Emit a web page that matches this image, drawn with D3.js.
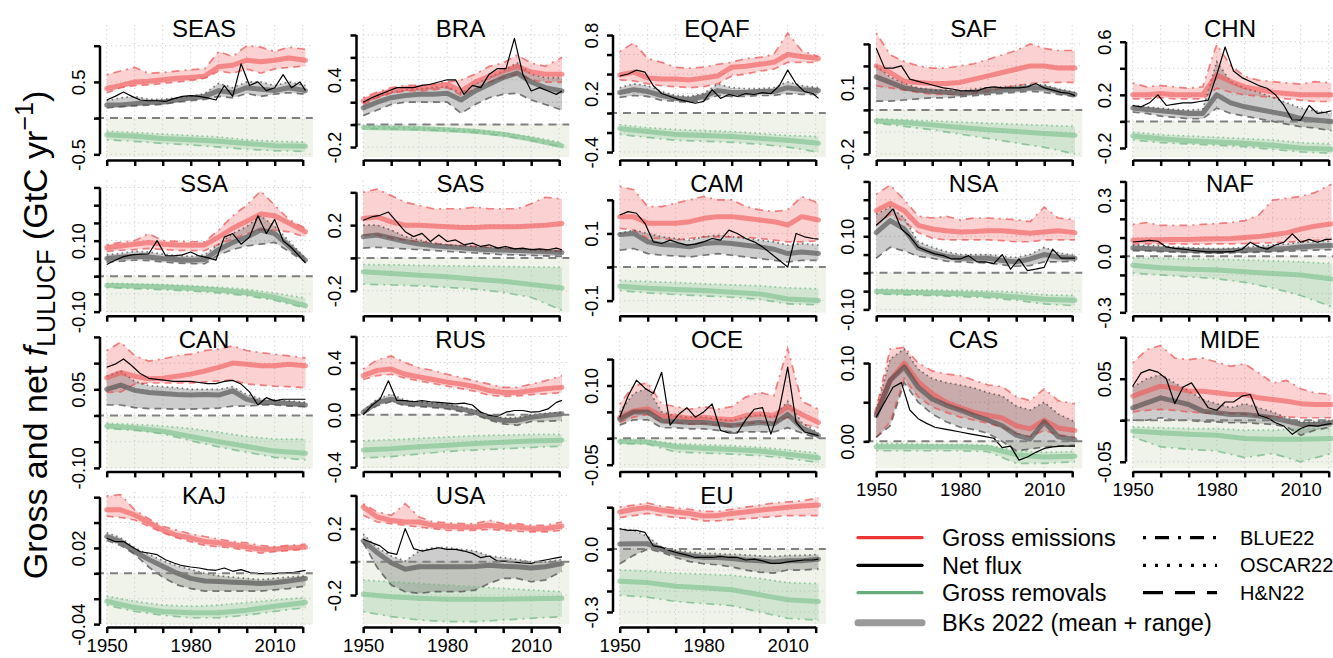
<!DOCTYPE html>
<html lang="en">
<head>
<meta charset="utf-8">
<title>Gross and net LULUCF fluxes by region</title>
<script src="https://d3js.org/d3.v7.min.js"></script>
<style>
  body { margin: 0; background: #fff; }
  svg { font-family: "Liberation Sans", Arial, Helvetica, sans-serif; }
</style>
</head>
<body>
<script>
// ---- data (GtC / yr) ----
var regions = ["SEAS","BRA","EQAF","SAF","CHN","SSA","SAS","CAM","NSA","NAF","CAN","RUS","OCE","CAS","MIDE","KAJ","USA","EU"];

var yearsA = [1950,1955,1960,1965,1970,1975,1980,1985,1990,1995,2000,2005,2010,2015,2021];
var yearsB = [1950,1953,1956,1959,1962,1965,1968,1971,1974,1977,1980,1983,1986,1989,1992,1995,1998,2001,2004,2007,2010,2013,2016,2019,2021];
var yearsR = [1950,1960,1970,1980,1990,2000,2010,2021];
var decades = [1950,1960,1970,1980,1990,2000,2010,2020];
var xTickLabels = ["1950","1980","2010"];

// axis limits, tick spacing [first, last, step] and which ticks carry a label
var yLimits = {
  SEAS:[-0.537,1.286], BRA:[-0.289,0.889], EQAF:[-0.451,0.903], SAF:[-0.214,0.386], CHN:[-0.268,0.726],
  SSA:[-0.103,0.269], SAS:[-0.334,0.471], CAM:[-0.136,0.257], NSA:[-0.109,0.252], NAF:[-0.302,0.404],
  CAN:[-0.101,0.151], RUS:[-0.41,0.6], OCE:[-0.057,0.193], CAS:[-0.0345,0.134], MIDE:[-0.058,0.101],
  KAJ:[-0.04,0.064], USA:[-0.375,0.42], EU:[-0.358,0.272]
};
var yTicks = {
  SEAS:[-0.5,1.0,0.5], BRA:[-0.2,0.8,0.2], EQAF:[-0.4,0.8,0.2], SAF:[-0.2,0.3,0.1], CHN:[-0.2,0.6,0.2],
  SSA:[-0.1,0.25,0.05], SAS:[-0.2,0.4,0.2], CAM:[-0.1,0.2,0.1], NSA:[-0.1,0.25,0.05], NAF:[-0.3,0.4,0.1],
  CAN:[-0.1,0.15,0.05], RUS:[-0.4,0.6,0.2], OCE:[-0.05,0.15,0.05], CAS:[0,0.1,0.05], MIDE:[-0.05,0.1,0.05],
  KAJ:[-0.04,0.06,0.02], USA:[-0.2,0.4,0.2], EU:[-0.3,0.2,0.1]
};
var yTickLabels = {
  SEAS:["-0.5","0.5"], BRA:["-0.2","0.4"], EQAF:["-0.4","0.2","0.8"], SAF:["-0.2","0.1"], CHN:["-0.2","0.2","0.6"],
  SSA:["-0.10","0.10"], SAS:["-0.2","0.2"], CAM:["-0.1","0.1"], NSA:["-0.10","0.10"], NAF:["-0.3","0.0","0.3"],
  CAN:["-0.10","0.05"], RUS:["-0.4","0.0","0.4"], OCE:["-0.05","0.10"], CAS:["0.00","0.10"], MIDE:["-0.05","0.05"],
  KAJ:["-0.04","0.02"], USA:["-0.2","0.2"], EU:["-0.3","0.0"]
};

// gross emissions, BKs mean and range (yearsA)
var grossEmis = {
  SEAS:[0.41,0.45,0.5,0.51,0.53,0.55,0.56,0.58,0.71,0.73,0.8,0.78,0.8,0.83,0.8],
  BRA:[0.21,0.26,0.3,0.32,0.33,0.34,0.36,0.3,0.38,0.43,0.48,0.52,0.47,0.45,0.45],
  EQAF:[0.39,0.42,0.36,0.35,0.35,0.34,0.36,0.38,0.47,0.48,0.5,0.52,0.6,0.58,0.56],
  SAF:[0.2,0.17,0.13,0.125,0.12,0.12,0.125,0.14,0.155,0.17,0.185,0.2,0.2,0.19,0.19],
  CHN:[0.2,0.2,0.21,0.2,0.2,0.2,0.35,0.3,0.26,0.24,0.22,0.21,0.2,0.2,0.2],
  SSA:[0.08,0.085,0.09,0.095,0.09,0.088,0.087,0.088,0.11,0.135,0.155,0.175,0.17,0.15,0.125],
  SAS:[0.24,0.25,0.22,0.2,0.2,0.195,0.19,0.185,0.185,0.19,0.19,0.19,0.195,0.2,0.21],
  CAM:[0.15,0.15,0.13,0.13,0.13,0.135,0.145,0.15,0.15,0.145,0.14,0.135,0.125,0.15,0.14],
  NSA:[0.17,0.19,0.17,0.13,0.12,0.115,0.112,0.113,0.115,0.115,0.112,0.108,0.112,0.115,0.11],
  NAF:[0.085,0.087,0.088,0.09,0.09,0.092,0.094,0.095,0.1,0.105,0.115,0.125,0.145,0.16,0.173],
  CAN:[0.072,0.082,0.075,0.07,0.071,0.075,0.079,0.085,0.092,0.1,0.098,0.095,0.095,0.098,0.095],
  RUS:[0.3,0.34,0.35,0.31,0.29,0.27,0.25,0.235,0.215,0.185,0.17,0.17,0.185,0.2,0.21],
  OCE:[0.04,0.052,0.056,0.042,0.042,0.038,0.04,0.037,0.035,0.043,0.046,0.043,0.06,0.045,0.03],
  CAS:[0.037,0.078,0.1,0.076,0.061,0.05,0.043,0.037,0.033,0.03,0.02,0.016,0.027,0.017,0.014],
  MIDE:[0.029,0.035,0.041,0.039,0.035,0.035,0.033,0.031,0.031,0.027,0.025,0.023,0.02,0.019,0.019],
  KAJ:[0.05,0.05,0.046,0.04,0.034,0.03,0.028,0.025,0.024,0.0225,0.021,0.019,0.019,0.02,0.0205],
  USA:[0.33,0.27,0.25,0.24,0.24,0.22,0.215,0.21,0.21,0.22,0.21,0.21,0.2,0.2,0.215],
  EU:[0.177,0.19,0.198,0.185,0.177,0.17,0.158,0.16,0.17,0.177,0.185,0.193,0.2,0.206,0.21]
};
var grossEmisHigh = {
  SEAS:[0.6,0.65,0.7,0.62,0.63,0.65,0.67,0.68,0.92,0.85,1.0,0.98,0.92,0.98,0.95],
  BRA:[0.24,0.29,0.33,0.35,0.35,0.36,0.38,0.4,0.45,0.52,0.55,0.62,0.55,0.52,0.6],
  EQAF:[0.63,0.72,0.56,0.52,0.47,0.46,0.47,0.5,0.52,0.56,0.57,0.6,0.82,0.64,0.58],
  SAF:[0.35,0.25,0.22,0.2,0.19,0.19,0.2,0.21,0.23,0.25,0.27,0.3,0.28,0.27,0.27],
  CHN:[0.29,0.26,0.27,0.26,0.25,0.26,0.58,0.42,0.34,0.31,0.3,0.29,0.28,0.3,0.29],
  SSA:[0.088,0.095,0.1,0.12,0.1,0.098,0.097,0.097,0.13,0.17,0.2,0.24,0.2,0.16,0.135],
  SAS:[0.4,0.42,0.38,0.34,0.32,0.3,0.3,0.3,0.31,0.3,0.3,0.3,0.33,0.37,0.36],
  CAM:[0.24,0.23,0.18,0.18,0.19,0.2,0.21,0.2,0.2,0.18,0.17,0.165,0.17,0.21,0.19],
  NSA:[0.215,0.24,0.2,0.155,0.15,0.155,0.145,0.15,0.15,0.148,0.145,0.14,0.18,0.15,0.145],
  NAF:[0.17,0.18,0.165,0.165,0.165,0.17,0.175,0.18,0.19,0.22,0.3,0.31,0.32,0.34,0.385],
  CAN:[0.124,0.14,0.114,0.104,0.108,0.114,0.117,0.124,0.127,0.133,0.124,0.12,0.117,0.114,0.11],
  RUS:[0.35,0.42,0.45,0.4,0.36,0.34,0.31,0.285,0.26,0.235,0.21,0.21,0.235,0.26,0.3],
  OCE:[0.065,0.1,0.105,0.065,0.06,0.055,0.06,0.055,0.06,0.078,0.087,0.08,0.17,0.07,0.055],
  CAS:[0.042,0.118,0.12,0.1,0.09,0.086,0.084,0.078,0.072,0.07,0.057,0.052,0.067,0.052,0.048],
  MIDE:[0.069,0.085,0.09,0.075,0.073,0.075,0.07,0.065,0.068,0.057,0.045,0.048,0.038,0.033,0.031],
  KAJ:[0.061,0.062,0.05,0.043,0.037,0.034,0.031,0.029,0.027,0.025,0.024,0.022,0.021,0.022,0.023],
  USA:[0.35,0.3,0.28,0.35,0.27,0.24,0.235,0.23,0.23,0.25,0.23,0.23,0.22,0.22,0.24],
  EU:[0.2,0.21,0.22,0.205,0.195,0.19,0.18,0.18,0.19,0.2,0.21,0.22,0.225,0.23,0.245]
};
var grossEmisLow = {
  SEAS:[0.35,0.42,0.45,0.46,0.48,0.5,0.52,0.55,0.65,0.62,0.68,0.62,0.68,0.7,0.72],
  BRA:[0.18,0.24,0.28,0.3,0.3,0.31,0.33,0.26,0.32,0.38,0.42,0.45,0.4,0.38,0.38],
  EQAF:[0.34,0.33,0.3,0.28,0.27,0.26,0.27,0.3,0.38,0.4,0.43,0.45,0.52,0.52,0.52],
  SAF:[0.11,0.1,0.09,0.08,0.07,0.07,0.07,0.075,0.085,0.1,0.11,0.12,0.125,0.125,0.125],
  CHN:[0.17,0.17,0.18,0.17,0.17,0.17,0.25,0.22,0.2,0.19,0.18,0.17,0.16,0.15,0.15],
  SSA:[0.07,0.073,0.075,0.078,0.075,0.073,0.072,0.072,0.09,0.105,0.12,0.13,0.13,0.125,0.11],
  SAS:[0.14,0.14,0.12,0.11,0.1,0.09,0.08,0.075,0.07,0.065,0.06,0.055,0.05,0.045,0.04],
  CAM:[0.115,0.11,0.085,0.085,0.08,0.085,0.09,0.09,0.09,0.088,0.085,0.08,0.075,0.075,0.078],
  NSA:[0.13,0.16,0.14,0.11,0.095,0.09,0.09,0.09,0.09,0.088,0.085,0.085,0.09,0.09,0.09],
  NAF:[0.065,0.066,0.066,0.066,0.065,0.065,0.066,0.066,0.068,0.07,0.072,0.075,0.08,0.085,0.09],
  CAN:[0.044,0.045,0.06,0.062,0.062,0.062,0.062,0.064,0.066,0.068,0.06,0.058,0.056,0.055,0.053],
  RUS:[0.27,0.3,0.31,0.28,0.26,0.24,0.22,0.2,0.18,0.15,0.14,0.145,0.155,0.16,0.17],
  OCE:[0.03,0.04,0.045,0.03,0.03,0.027,0.028,0.025,0.023,0.027,0.03,0.028,0.04,0.027,0.02],
  CAS:[0.005,0.025,0.08,0.057,0.044,0.037,0.031,0.027,0.023,0.018,0.01,0.006,0.014,0.008,0.005],
  MIDE:[0.01,0.012,0.013,0.012,0.01,0.009,0.008,0.008,0.007,0.005,0.004,0.004,0.003,0.003,0.003],
  KAJ:[0.045,0.044,0.042,0.037,0.032,0.028,0.025,0.022,0.021,0.02,0.018,0.016,0.017,0.018,0.019],
  USA:[0.28,0.24,0.23,0.22,0.21,0.2,0.19,0.19,0.19,0.195,0.19,0.185,0.18,0.18,0.19],
  EU:[0.15,0.16,0.17,0.16,0.15,0.145,0.135,0.135,0.14,0.145,0.15,0.155,0.16,0.16,0.16]
};

// net flux, BKs mean and range (yearsA)
var netFlux = {
  SEAS:[0.18,0.18,0.2,0.22,0.22,0.25,0.28,0.3,0.38,0.35,0.42,0.4,0.38,0.42,0.38],
  BRA:[0.15,0.2,0.24,0.26,0.27,0.27,0.28,0.22,0.3,0.36,0.42,0.46,0.38,0.33,0.3],
  EQAF:[0.21,0.24,0.22,0.18,0.15,0.14,0.17,0.23,0.21,0.21,0.22,0.22,0.26,0.24,0.23],
  SAF:[0.15,0.125,0.1,0.09,0.085,0.08,0.075,0.08,0.085,0.09,0.095,0.1,0.1,0.085,0.07],
  CHN:[0.1,0.09,0.08,0.07,0.06,0.06,0.2,0.14,0.11,0.09,0.07,0.05,0.02,0.01,0.0],
  SSA:[0.05,0.053,0.056,0.054,0.05,0.047,0.045,0.047,0.075,0.095,0.11,0.13,0.12,0.085,0.045],
  SAS:[0.13,0.14,0.12,0.1,0.085,0.075,0.068,0.062,0.055,0.05,0.048,0.045,0.042,0.038,0.033],
  CAM:[0.097,0.1,0.075,0.067,0.065,0.06,0.07,0.073,0.07,0.065,0.06,0.053,0.04,0.045,0.04],
  NSA:[0.11,0.143,0.12,0.068,0.055,0.045,0.04,0.04,0.04,0.034,0.03,0.038,0.05,0.043,0.04],
  NAF:[0.044,0.042,0.038,0.035,0.032,0.03,0.027,0.03,0.032,0.035,0.037,0.042,0.05,0.055,0.058],
  CAN:[0.05,0.058,0.048,0.044,0.042,0.04,0.039,0.04,0.039,0.047,0.031,0.025,0.025,0.023,0.02],
  RUS:[0.02,0.095,0.12,0.09,0.083,0.075,0.065,0.045,0.02,-0.018,-0.043,-0.043,-0.018,-0.005,0.008],
  OCE:[0.036,0.05,0.05,0.033,0.032,0.03,0.03,0.027,0.024,0.027,0.03,0.027,0.045,0.02,0.005],
  CAS:[0.033,0.078,0.095,0.069,0.054,0.046,0.04,0.033,0.027,0.02,0.008,0.003,0.025,0.006,0.002],
  MIDE:[0.015,0.021,0.027,0.023,0.019,0.011,0.009,0.007,0.007,0.005,0.003,-0.001,-0.005,-0.005,-0.003],
  KAJ:[0.029,0.025,0.017,0.011,0.0055,0.0003,-0.004,-0.006,-0.0065,-0.007,-0.0075,-0.008,-0.0075,-0.006,-0.004],
  USA:[0.126,0.055,-0.006,-0.045,-0.03,-0.03,-0.03,-0.03,-0.028,-0.02,-0.026,-0.03,-0.037,-0.03,-0.01],
  EU:[0.024,0.025,0.025,0.0,-0.02,-0.032,-0.04,-0.04,-0.045,-0.052,-0.056,-0.061,-0.056,-0.056,-0.048]
};
var netFluxHigh = {
  SEAS:[0.24,0.28,0.3,0.26,0.26,0.28,0.3,0.34,0.48,0.42,0.5,0.5,0.45,0.5,0.45],
  BRA:[0.2,0.25,0.29,0.31,0.32,0.33,0.34,0.28,0.36,0.42,0.48,0.55,0.45,0.42,0.42],
  EQAF:[0.26,0.3,0.28,0.22,0.18,0.17,0.2,0.3,0.26,0.25,0.25,0.26,0.32,0.28,0.26],
  SAF:[0.2,0.15,0.12,0.1,0.09,0.09,0.085,0.095,0.1,0.105,0.11,0.115,0.115,0.095,0.08],
  CHN:[0.12,0.11,0.1,0.09,0.085,0.09,0.45,0.3,0.25,0.22,0.18,0.14,0.1,0.08,0.06],
  SSA:[0.06,0.064,0.07,0.068,0.062,0.058,0.056,0.06,0.09,0.12,0.14,0.17,0.14,0.1,0.05],
  SAS:[0.2,0.2,0.17,0.13,0.11,0.09,0.08,0.075,0.07,0.065,0.06,0.055,0.05,0.045,0.04],
  CAM:[0.1,0.11,0.1,0.09,0.085,0.08,0.09,0.095,0.09,0.085,0.08,0.075,0.065,0.07,0.065],
  NSA:[0.16,0.18,0.15,0.085,0.07,0.058,0.05,0.05,0.05,0.045,0.042,0.05,0.07,0.055,0.048],
  NAF:[0.06,0.058,0.055,0.05,0.046,0.043,0.04,0.043,0.048,0.055,0.06,0.065,0.075,0.078,0.08],
  CAN:[0.075,0.085,0.065,0.057,0.055,0.053,0.05,0.05,0.05,0.055,0.04,0.032,0.03,0.028,0.025],
  RUS:[0.03,0.12,0.16,0.11,0.1,0.09,0.08,0.06,0.035,0.0,-0.025,-0.02,0.0,0.01,0.02],
  OCE:[0.05,0.085,0.095,0.05,0.042,0.04,0.04,0.036,0.034,0.04,0.045,0.04,0.07,0.03,0.01],
  CAS:[0.04,0.105,0.118,0.092,0.08,0.075,0.072,0.068,0.062,0.058,0.045,0.04,0.05,0.035,0.025],
  MIDE:[0.04,0.05,0.055,0.045,0.035,0.025,0.02,0.015,0.02,0.015,0.01,0.003,-0.002,-0.002,0.0],
  KAJ:[0.032,0.028,0.02,0.015,0.01,0.006,0.003,0.0,-0.002,-0.003,-0.004,-0.005,-0.004,-0.003,-0.002],
  USA:[0.167,0.085,0.035,0.005,0.065,0.085,0.085,0.075,0.065,0.035,0.025,0.014,0.0,0.0,0.014],
  EU:[0.095,0.09,0.06,0.01,-0.005,-0.015,-0.02,-0.022,-0.025,-0.028,-0.032,-0.035,-0.03,-0.03,-0.025]
};
var netFluxLow = {
  SEAS:[0.14,0.16,0.17,0.18,0.19,0.22,0.24,0.26,0.3,0.28,0.34,0.3,0.33,0.35,0.33],
  BRA:[0.08,0.13,0.18,0.2,0.2,0.2,0.2,0.1,0.18,0.24,0.27,0.28,0.22,0.18,0.13],
  EQAF:[0.16,0.18,0.17,0.13,0.12,0.11,0.13,0.18,0.17,0.17,0.18,0.18,0.2,0.19,0.19],
  SAF:[0.04,0.04,0.045,0.05,0.055,0.055,0.06,0.065,0.07,0.075,0.08,0.085,0.08,0.07,0.06],
  CHN:[0.07,0.06,0.04,0.03,0.02,0.02,0.1,0.06,0.04,0.02,0.0,-0.02,-0.04,-0.05,-0.07],
  SSA:[0.04,0.042,0.045,0.044,0.04,0.037,0.035,0.035,0.06,0.075,0.085,0.09,0.095,0.07,0.04],
  SAS:[0.06,0.065,0.06,0.055,0.05,0.045,0.04,0.035,0.03,0.025,0.02,0.018,0.015,0.012,0.01],
  CAM:[0.05,0.055,0.04,0.035,0.033,0.03,0.035,0.04,0.035,0.03,0.025,0.02,0.015,0.02,0.02],
  NSA:[0.04,0.07,0.06,0.045,0.04,0.032,0.03,0.028,0.027,0.022,0.018,0.02,0.03,0.03,0.032],
  NAF:[0.03,0.028,0.025,0.022,0.02,0.018,0.016,0.018,0.02,0.022,0.024,0.026,0.03,0.033,0.035],
  CAN:[0.02,0.02,0.015,0.013,0.013,0.012,0.012,0.013,0.014,0.018,0.018,0.02,0.02,0.018,0.017],
  RUS:[0.01,0.07,0.1,0.07,0.063,0.055,0.045,0.025,0.0,-0.04,-0.07,-0.08,-0.05,-0.05,-0.045],
  OCE:[0.025,0.035,0.035,0.02,0.02,0.018,0.018,0.015,0.012,0.012,0.012,0.012,0.02,0.01,0.0],
  CAS:[0.005,0.02,0.075,0.05,0.035,0.025,0.018,0.015,0.01,0.0,-0.012,-0.01,-0.007,-0.006,-0.005],
  MIDE:[0.0,0.0,0.003,0.0,0.0,-0.002,-0.002,-0.003,-0.003,-0.004,-0.005,-0.008,-0.018,-0.012,-0.008],
  KAJ:[0.026,0.022,0.015,0.005,-0.003,-0.009,-0.012,-0.014,-0.014,-0.014,-0.014,-0.014,-0.013,-0.012,-0.01],
  USA:[0.115,-0.035,-0.14,-0.18,-0.19,-0.18,-0.18,-0.18,-0.17,-0.13,-0.1,-0.1,-0.12,-0.11,-0.057],
  EU:[-0.07,-0.03,0.0,-0.015,-0.04,-0.06,-0.07,-0.075,-0.085,-0.1,-0.11,-0.115,-0.1,-0.1,-0.095]
};

// thin black net flux line (yearsB)
var netFluxThin = {
  SEAS:[0.25,0.3,0.36,0.3,0.25,0.24,0.24,0.23,0.27,0.3,0.31,0.3,0.28,0.25,0.45,0.3,0.75,0.45,0.5,0.38,0.42,0.6,0.42,0.5,0.38],
  BRA:[0.2,0.24,0.27,0.3,0.33,0.33,0.33,0.35,0.36,0.38,0.4,0.4,0.27,0.35,0.33,0.45,0.5,0.5,0.77,0.45,0.3,0.33,0.3,0.27,0.3],
  EQAF:[0.38,0.4,0.44,0.42,0.28,0.2,0.17,0.14,0.12,0.1,0.12,0.24,0.15,0.19,0.17,0.2,0.19,0.21,0.2,0.28,0.44,0.3,0.22,0.2,0.15],
  SAF:[0.28,0.19,0.19,0.2,0.14,0.13,0.12,0.11,0.1,0.095,0.088,0.087,0.086,0.1,0.105,0.1,0.1,0.1,0.105,0.12,0.1,0.09,0.08,0.075,0.065],
  CHN:[0.12,0.11,0.14,0.2,0.12,0.13,0.14,0.14,0.15,0.16,0.35,0.56,0.38,0.33,0.3,0.27,0.25,0.2,0.12,0.01,0.01,0.12,0.06,0.07,0.08],
  SSA:[0.033,0.045,0.055,0.06,0.062,0.063,0.1,0.058,0.057,0.06,0.068,0.057,0.052,0.045,0.11,0.12,0.09,0.11,0.17,0.12,0.16,0.1,0.08,0.055,0.037],
  SAS:[0.23,0.25,0.26,0.28,0.22,0.16,0.13,0.15,0.1,0.14,0.1,0.11,0.08,0.09,0.07,0.08,0.06,0.07,0.055,0.06,0.05,0.055,0.05,0.06,0.05],
  CAM:[0.155,0.165,0.16,0.13,0.075,0.07,0.08,0.072,0.065,0.068,0.075,0.085,0.08,0.11,0.1,0.085,0.075,0.06,0.04,0.02,0.0,0.1,0.09,0.085,0.083],
  NSA:[0.13,0.15,0.175,0.12,0.1,0.07,0.06,0.052,0.047,0.038,0.038,0.047,0.03,0.03,0.025,0.05,0.01,0.038,0.006,0.01,0.015,0.065,0.04,0.04,0.04],
  NAF:[0.076,0.08,0.085,0.08,0.05,0.042,0.038,0.032,0.027,0.023,0.023,0.023,0.026,0.036,0.075,0.05,0.038,0.06,0.075,0.12,0.075,0.09,0.075,0.09,0.09],
  CAN:[0.092,0.098,0.108,0.095,0.08,0.071,0.069,0.067,0.065,0.065,0.065,0.063,0.061,0.061,0.065,0.067,0.06,0.045,0.02,0.034,0.028,0.031,0.031,0.031,0.031],
  RUS:[0.0,0.07,0.12,0.26,0.11,0.108,0.1,0.108,0.1,0.095,0.09,0.083,0.09,0.075,0.02,-0.005,-0.01,0.02,0.033,0.033,0.02,0.025,0.045,0.095,0.11],
  OCE:[0.04,0.08,0.11,0.095,0.085,0.125,0.025,0.045,0.058,0.04,0.05,0.065,0.015,0.01,0.01,0.035,0.055,0.058,0.008,0.055,0.135,0.03,0.012,0.008,0.005],
  CAS:[0.031,0.05,0.069,0.075,0.04,0.029,0.023,0.018,0.016,0.014,0.012,0.01,0.008,0.006,0.004,-0.008,-0.006,-0.024,-0.02,-0.014,-0.009,-0.007,-0.006,-0.006,-0.006],
  MIDE:[0.041,0.057,0.061,0.058,0.05,0.02,0.04,0.045,0.03,0.015,0.012,0.022,0.022,0.029,0.031,0.006,0.003,-0.003,-0.007,-0.017,-0.01,-0.006,-0.007,-0.005,-0.004],
  KAJ:[0.0276,0.025,0.025,0.021,0.017,0.016,0.0147,0.0107,0.0081,0.006,0.005,0.0042,0.0029,0.0024,0.0042,0.0016,0.0029,0.0008,-0.0003,-0.0003,-0.0003,0.0003,0.0003,0.0016,0.0024],
  USA:[0.136,0.116,0.096,0.055,0.045,0.2,0.08,0.065,0.075,0.085,0.075,0.075,0.065,0.051,0.025,0.035,0.004,0.004,-0.002,-0.006,-0.01,0.004,0.014,0.024,0.03],
  EU:[0.097,0.089,0.089,0.08,0.015,0.008,-0.008,-0.019,-0.029,-0.04,-0.04,-0.04,-0.035,-0.04,-0.04,-0.052,-0.048,-0.056,-0.068,-0.068,-0.061,-0.056,-0.052,-0.052,-0.048]
};

// gross removals, BKs mean and range (yearsR)
var grossRem = {
  SEAS:[-0.23,-0.25,-0.28,-0.3,-0.32,-0.35,-0.38,-0.39],
  BRA:[-0.025,-0.03,-0.035,-0.045,-0.06,-0.085,-0.13,-0.19],
  EQAF:[-0.16,-0.19,-0.22,-0.23,-0.24,-0.26,-0.28,-0.31],
  SAF:[-0.05,-0.057,-0.068,-0.08,-0.09,-0.098,-0.107,-0.115],
  CHN:[-0.11,-0.13,-0.145,-0.155,-0.165,-0.18,-0.2,-0.21],
  SSA:[-0.026,-0.028,-0.03,-0.034,-0.039,-0.047,-0.06,-0.083],
  SAS:[-0.085,-0.095,-0.105,-0.115,-0.13,-0.142,-0.162,-0.183],
  CAM:[-0.057,-0.063,-0.067,-0.07,-0.075,-0.08,-0.095,-0.1],
  NSA:[-0.051,-0.053,-0.055,-0.057,-0.06,-0.066,-0.072,-0.075],
  NAF:[-0.048,-0.062,-0.069,-0.074,-0.083,-0.092,-0.1,-0.122],
  CAN:[-0.02,-0.024,-0.03,-0.04,-0.05,-0.059,-0.068,-0.072],
  RUS:[-0.27,-0.26,-0.245,-0.232,-0.22,-0.21,-0.2,-0.195],
  OCE:[-0.006,-0.007,-0.016,-0.019,-0.021,-0.024,-0.03,-0.037],
  CAS:[-0.007,-0.007,-0.007,-0.007,-0.008,-0.017,-0.02,-0.019],
  MIDE:[-0.013,-0.015,-0.017,-0.018,-0.022,-0.023,-0.023,-0.022],
  KAJ:[-0.022,-0.027,-0.03,-0.031,-0.031,-0.029,-0.026,-0.023],
  USA:[-0.195,-0.21,-0.22,-0.225,-0.225,-0.225,-0.222,-0.22],
  EU:[-0.153,-0.16,-0.177,-0.185,-0.194,-0.218,-0.242,-0.25]
};
var grossRemHigh = {
  SEAS:[-0.18,-0.2,-0.22,-0.24,-0.26,-0.3,-0.32,-0.33],
  BRA:[-0.015,-0.02,-0.025,-0.035,-0.05,-0.075,-0.11,-0.16],
  EQAF:[-0.12,-0.15,-0.17,-0.18,-0.19,-0.21,-0.23,-0.24],
  SAF:[-0.04,-0.045,-0.05,-0.055,-0.06,-0.065,-0.07,-0.075],
  CHN:[-0.08,-0.1,-0.11,-0.12,-0.13,-0.14,-0.16,-0.17],
  SSA:[-0.02,-0.022,-0.024,-0.027,-0.031,-0.037,-0.048,-0.062],
  SAS:[-0.04,-0.042,-0.045,-0.048,-0.05,-0.052,-0.055,-0.058],
  CAM:[-0.04,-0.043,-0.046,-0.05,-0.053,-0.056,-0.062,-0.065],
  NSA:[-0.045,-0.046,-0.047,-0.048,-0.05,-0.053,-0.06,-0.062],
  NAF:[-0.01,-0.012,-0.015,-0.017,-0.02,-0.025,-0.03,-0.04],
  CAN:[-0.015,-0.017,-0.02,-0.025,-0.032,-0.04,-0.045,-0.045],
  RUS:[-0.2,-0.19,-0.18,-0.17,-0.16,-0.155,-0.15,-0.15],
  OCE:[-0.003,-0.004,-0.01,-0.012,-0.014,-0.017,-0.022,-0.028],
  CAS:[-0.003,-0.003,-0.004,-0.004,-0.005,-0.012,-0.014,-0.013],
  MIDE:[-0.008,-0.009,-0.01,-0.01,-0.012,-0.012,-0.01,-0.01],
  KAJ:[-0.018,-0.022,-0.025,-0.026,-0.025,-0.023,-0.021,-0.019],
  USA:[-0.11,-0.12,-0.13,-0.14,-0.15,-0.16,-0.17,-0.18],
  EU:[-0.1,-0.105,-0.115,-0.12,-0.125,-0.14,-0.16,-0.165]
};
var grossRemLow = {
  SEAS:[-0.3,-0.32,-0.35,-0.37,-0.4,-0.43,-0.45,-0.46],
  BRA:[-0.035,-0.04,-0.045,-0.055,-0.07,-0.1,-0.14,-0.2],
  EQAF:[-0.22,-0.25,-0.28,-0.29,-0.3,-0.32,-0.35,-0.4],
  SAF:[-0.06,-0.075,-0.09,-0.11,-0.13,-0.15,-0.17,-0.2],
  CHN:[-0.14,-0.16,-0.17,-0.18,-0.19,-0.21,-0.23,-0.24],
  SSA:[-0.032,-0.035,-0.038,-0.042,-0.047,-0.055,-0.068,-0.09],
  SAS:[-0.16,-0.165,-0.17,-0.18,-0.19,-0.21,-0.24,-0.32],
  CAM:[-0.07,-0.077,-0.082,-0.086,-0.09,-0.096,-0.11,-0.112],
  NSA:[-0.058,-0.06,-0.062,-0.065,-0.068,-0.075,-0.085,-0.09],
  NAF:[-0.09,-0.1,-0.11,-0.12,-0.14,-0.17,-0.21,-0.27],
  CAN:[-0.025,-0.028,-0.035,-0.048,-0.06,-0.07,-0.08,-0.085],
  RUS:[-0.33,-0.32,-0.3,-0.28,-0.27,-0.26,-0.25,-0.24],
  OCE:[-0.01,-0.011,-0.026,-0.028,-0.03,-0.033,-0.038,-0.046],
  CAS:[-0.012,-0.012,-0.012,-0.012,-0.013,-0.028,-0.028,-0.026],
  MIDE:[-0.02,-0.032,-0.035,-0.037,-0.045,-0.04,-0.05,-0.04],
  KAJ:[-0.025,-0.03,-0.033,-0.035,-0.035,-0.033,-0.03,-0.027],
  USA:[-0.3,-0.33,-0.35,-0.36,-0.36,-0.35,-0.34,-0.33],
  EU:[-0.22,-0.23,-0.25,-0.26,-0.27,-0.3,-0.33,-0.34]
};

var legendLabels = ["Gross emissions", "Net flux", "Gross removals", "BKs 2022 (mean + range)"];
var modelLabels = ["BLUE22", "OSCAR22", "H&N22"];

// ---- drawing ----
var width = 1333, height = 658;

var red = "#ee3535", green = "#69ad7e";
var dashBlue = "2,5,8,5", dashOscar = "1.6,3.4", dashHN = "7,5";

var svg = d3.select("body").append("svg")
    .attr("width", width)
    .attr("height", height);

function band(years, lo, hi) {
  return years.map(function(yr, k) { return {year: yr, lo: lo[k], hi: hi[k]}; });
}
function pts(years, vals) {
  return years.map(function(yr, k) { return {year: yr, v: vals[k]}; });
}

regions.forEach(function(r, i) {
  var row = Math.floor(i / 5), col = i % 5;
  var ax = 100 + col * 256.5, ay = 160 + row * 155.7;
  var showXLabels = row === 3 || (row === 2 && col >= 3);

  var x = d3.scaleLinear().domain([1950, 2020]).range([ax + 6.7, ax + 202.7]);
  var y = d3.scaleLinear().domain(yLimits[r]).range([ay - 3, ay - 135]);
  var xEnd = x(2023.6);
  var yt = yTicks[r];
  var tickVals = d3.range(yt[0], yt[1] + yt[2] / 2, yt[2]);

  var g = svg.append("g").attr("class", "panel");

  // negative half of the plot
  g.append("rect")
      .attr("x", x(1950)).attr("width", xEnd - x(1950))
      .attr("y", y(0)).attr("height", y(yLimits[r][0]) - y(0))
      .attr("fill", "#eff3e9");

  // dotted grid
  g.selectAll(".vgrid").data(decades).enter().append("line")
      .attr("x1", function(d) { return x(d); }).attr("x2", function(d) { return x(d); })
      .attr("y1", ay - 135).attr("y2", ay - 3)
      .attr("stroke", "#c4c4c4").attr("stroke-width", 1).attr("stroke-dasharray", "1,3.5");
  g.selectAll(".hgrid").data(tickVals).enter().append("line")
      .attr("x1", x(1950)).attr("x2", xEnd)
      .attr("y1", function(d) { return y(d); }).attr("y2", function(d) { return y(d); })
      .attr("stroke", "#c4c4c4").attr("stroke-width", 1).attr("stroke-dasharray", "1,3.5");

  var area = d3.area()
      .x(function(d) { return x(d.year); })
      .y0(function(d) { return y(d.lo); })
      .y1(function(d) { return y(d.hi); });
  var line = d3.line()
      .x(function(d) { return x(d.year); })
      .y(function(d) { return y(d.v); });

  // ranges
  g.append("path").attr("d", area(band(yearsR, grossRemLow[r], grossRemHigh[r])))
      .attr("fill", "rgba(110,180,125,0.22)");
  g.append("path").attr("d", area(band(yearsA, grossEmisLow[r], grossEmisHigh[r])))
      .attr("fill", "rgba(240,70,70,0.25)");
  g.append("path").attr("d", area(band(yearsA, netFluxLow[r], netFluxHigh[r])))
      .attr("fill", "rgba(60,60,60,0.26)");

  // individual model edges
  function edge(years, vals, color, dash) {
    g.append("path").attr("d", line(pts(years, vals)))
        .attr("fill", "none").attr("stroke", color)
        .attr("stroke-width", 1.7).attr("stroke-dasharray", dash);
  }
  edge(yearsR, grossRemHigh[r], "rgba(115,185,135,0.75)", dashOscar);
  edge(yearsR, grossRemLow[r], "rgba(115,185,135,0.75)", dashBlue);
  edge(yearsA, grossEmisHigh[r], "rgba(235,80,80,0.7)", dashBlue);
  edge(yearsA, grossEmisLow[r], "rgba(235,80,80,0.7)", dashHN);
  edge(yearsA, netFluxHigh[r], "rgba(70,70,70,0.7)", dashOscar);
  edge(yearsA, netFluxLow[r], "rgba(70,70,70,0.7)", dashHN);

  // BKs means
  function mean(years, vals, color) {
    g.append("path").attr("d", line(pts(years, vals)))
        .attr("fill", "none").attr("stroke", color)
        .attr("stroke-width", 5).attr("stroke-linejoin", "round").attr("stroke-linecap", "round");
  }
  mean(yearsR, grossRem[r], "rgba(120,190,140,0.6)");
  mean(yearsA, grossEmis[r], "rgba(240,85,85,0.6)");
  mean(yearsA, netFlux[r], "rgba(70,70,70,0.6)");

  // thin net line
  g.append("path").attr("d", line(pts(yearsB, netFluxThin[r])))
      .attr("fill", "none").attr("stroke", "#000").attr("stroke-width", 1.2)
      .attr("stroke-linejoin", "round");

  // zero line
  g.append("line")
      .attr("x1", ax - 4).attr("x2", xEnd)
      .attr("y1", y(0)).attr("y2", y(0))
      .attr("stroke", "#808080").attr("stroke-width", 2).attr("stroke-dasharray", "8,6");

  // x axis
  var xAxis = d3.axisBottom(x)
      .tickValues(decades)
      .tickSize(6)
      .tickSizeOuter(0)
      .tickFormat(function(d) { return showXLabels && xTickLabels.indexOf(String(d)) >= 0 ? d : ""; });
  var gx = g.append("g").attr("transform", "translate(0," + ay + ")").call(xAxis);
  gx.attr("font-family", null).attr("font-size", null);
  gx.select(".domain").attr("stroke-width", 2.5);
  gx.selectAll(".tick line").attr("stroke-width", 2.5);
  gx.selectAll(".tick text").attr("y", 25).attr("dy", 0).attr("font-size", 18.5);

  // y axis (line only between the outer ticks)
  var yAxis = d3.axisLeft(y)
      .tickValues(tickVals)
      .tickSize(6)
      .tickFormat(function(d) {
        var lab = yTickLabels[r].find(function(s) { return Math.abs(+s - d) < 1e-9; });
        return lab || "";
      });
  var gy = g.append("g").attr("transform", "translate(" + ax + ",0)").call(yAxis);
  gy.attr("font-family", null).attr("font-size", null);
  gy.select(".domain").remove();
  gy.selectAll(".tick line").attr("stroke-width", 2.5);
  gy.append("line")
      .attr("y1", y(tickVals[0])).attr("y2", y(tickVals[tickVals.length - 1]))
      .attr("stroke", "#000").attr("stroke-width", 2.5);
  gy.selectAll(".tick text")
      .attr("transform", "rotate(-90)")
      .attr("x", 0).attr("y", -15.5).attr("dy", 0)
      .attr("text-anchor", "middle")
      .attr("font-size", 18.5);

  // title
  g.append("text")
      .attr("x", ax + 104).attr("y", ay - 123.5)
      .attr("text-anchor", "middle")
      .attr("font-size", 24)
      .text(r);
});

// y axis title
var ytitle = svg.append("text")
    .attr("transform", "translate(47,335) rotate(-90)")
    .attr("text-anchor", "middle")
    .attr("font-size", 34);
ytitle.append("tspan").text("Gross and net ");
ytitle.append("tspan").attr("font-style", "italic").text("f");
ytitle.append("tspan").attr("font-size", 25).attr("dy", 8).text("LULUCF");
ytitle.append("tspan").attr("dy", -8).text(" (GtC yr");
ytitle.append("tspan").attr("font-size", 25).attr("dy", -14).text("\u22121");
ytitle.append("tspan").attr("dy", 14).text(")");

// legend
var legRows = [537.7, 565.3, 592.7, 622.7];
var legColors = [red, "#000", green, "#9a9a9a"];
var legWidths = [3.3, 3.3, 3.3, 7];
var leg = svg.append("g").attr("font-size", 23.5);
legendLabels.forEach(function(lab, k) {
  leg.append("line")
      .attr("x1", 858).attr("x2", 922).attr("y1", legRows[k]).attr("y2", legRows[k])
      .attr("stroke", legColors[k]).attr("stroke-width", legWidths[k])
      .attr("stroke-linecap", "round");
  leg.append("text").attr("x", 942).attr("y", legRows[k]).attr("dy", "0.35em").text(lab);
});
var modelDash = ["3,9,14,9", "3,9", "20,12"];
modelLabels.forEach(function(lab, k) {
  leg.append("line")
      .attr("x1", 1143).attr("x2", 1217).attr("y1", legRows[k]).attr("y2", legRows[k])
      .attr("stroke", "#000").attr("stroke-width", 3.3)
      .attr("stroke-dasharray", modelDash[k]);
  leg.append("text").attr("x", 1240).attr("y", legRows[k]).attr("dy", "0.35em")
      .attr("font-size", 20).text(lab);
});
</script>
</body>
</html>
